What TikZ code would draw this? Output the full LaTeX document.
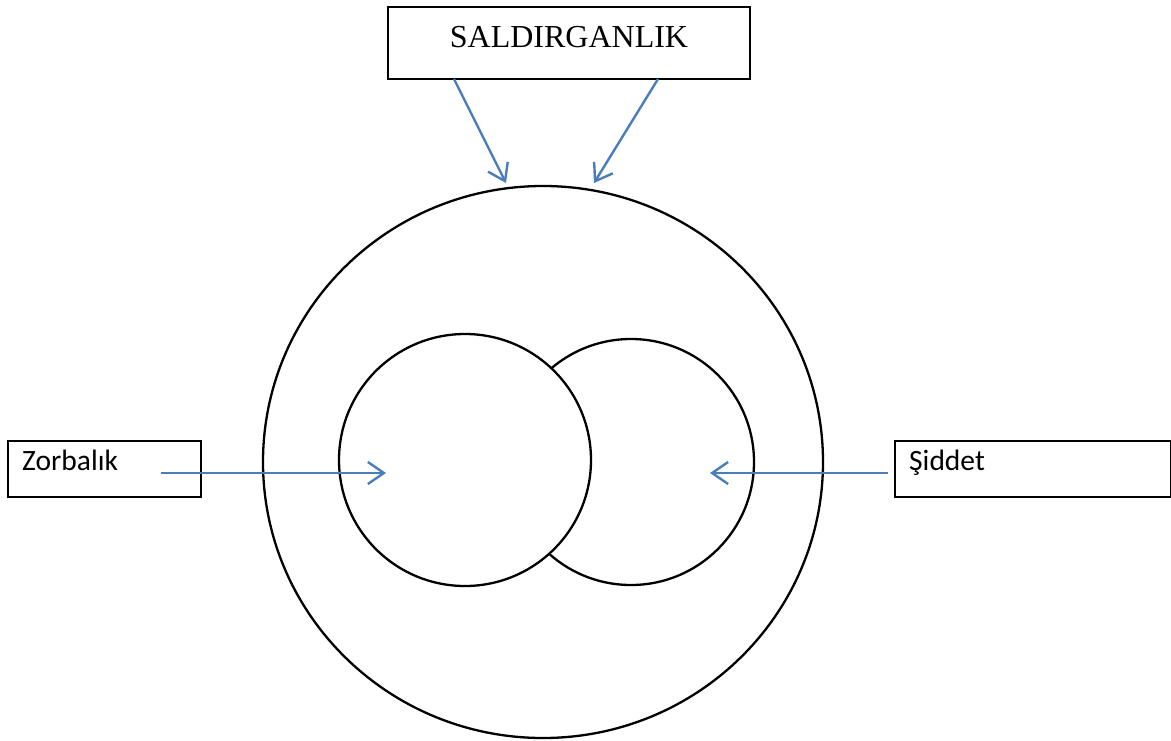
\documentclass[tikz,border=0pt]{standalone}
\usepackage{fontspec}
\setmainfont{Liberation Serif}
\newfontfamily\calib{Carlito}
\usetikzlibrary{arrows.meta,shapes.geometric}
\definecolor{arrblue}{RGB}{74,126,187}
\begin{document}
\begin{tikzpicture}[x=1pt,y=-1pt,
  box/.style={draw=black,line width=2.3pt,rectangle,inner sep=0pt},
  ring/.style={draw=black,line width=2.3pt,inner sep=0pt},
  link/.style={draw=arrblue,line width=2.4pt,-{Straight Barb[length=16pt,width=22pt,line width=2.4pt]}},
  lbl/.style={font=\calib\fontsize{29.5}{31}\selectfont,anchor=base west,inner sep=0pt}
]
\useasboundingbox[fill=white] (0,0) rectangle (1171,740);
% circles
\node[ring,ellipse,minimum width=560pt,minimum height=552pt] (big) at (543,462) {};
\node[ring,circle,minimum size=246pt] (rc) at (631,462) {};
\node[ring,circle,fill=white,minimum size=252pt] (lc) at (465,460) {};
% boxes
\node[box,minimum width=362pt,minimum height=72pt] (top) at (569,43) {};
\node[anchor=center,inner sep=0pt,font=\fontsize{32}{34}\selectfont] (toptext) at (569,37) {SALDIRGANLIK};
\node[box,minimum width=193pt,minimum height=56pt] (zb) at (104.5,469) {};
\node[lbl] (zbt) at (22,470) {Zorbalık};
\node[box,minimum width=276pt,minimum height=56pt,anchor=west] (sd) at (894,469) {};
\node[lbl] (sdt) at (909,470) {Şiddet};
% arrow endpoints
\coordinate (t1s) at (454,79);
\coordinate (t1e) at (506,183);
\coordinate (t2s) at (658,79);
\coordinate (t2e) at (594,183);
\coordinate (zs) at (161,473);
\coordinate (ze) at (386,473);
\coordinate (ss) at (888,473);
\coordinate (se) at (710,473);
\draw[link] (t1s) -- (t1e);
\draw[link] (t2s) -- (t2e);
\draw[link] (zs) -- (ze);
\draw[link] (ss) -- (se);
\end{tikzpicture}
\end{document}
